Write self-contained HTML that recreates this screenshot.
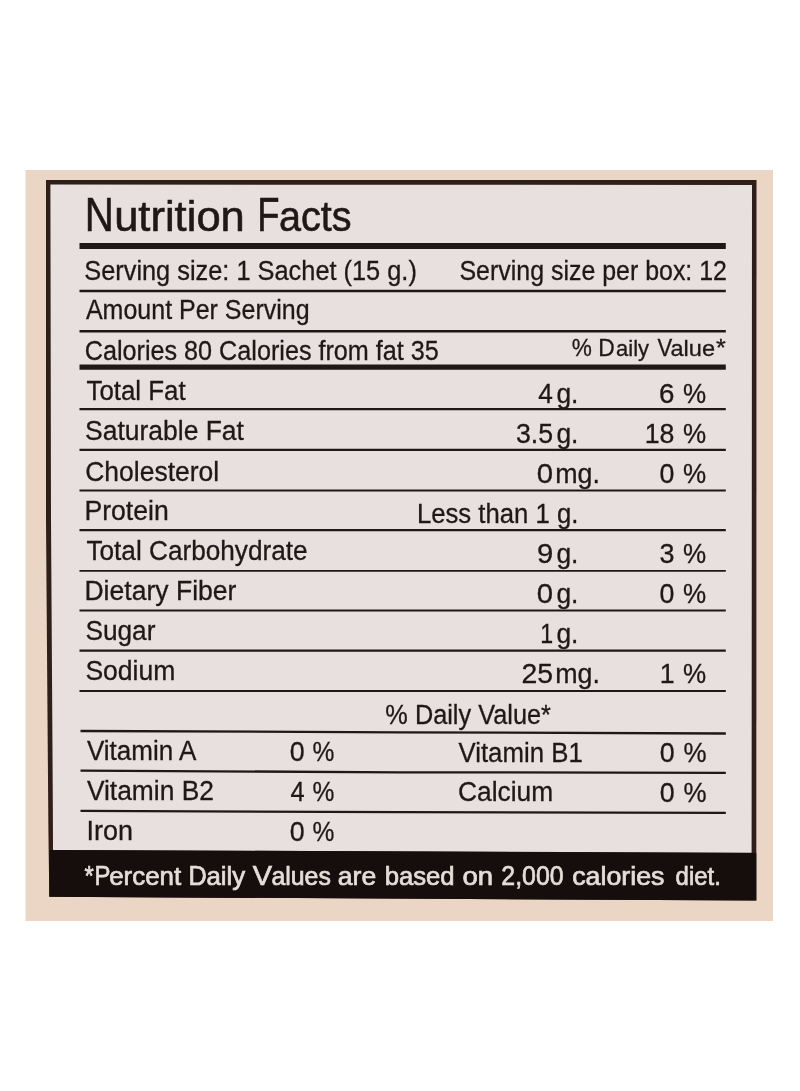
<!DOCTYPE html>
<html><head><meta charset="utf-8"><style>
html,body{margin:0;padding:0;background:#fff;}
body{width:800px;height:1091px;overflow:hidden;}
svg{display:block;font-family:"Liberation Sans",sans-serif;filter:blur(0.35px);}
</style></head><body>
<svg width="800" height="1091" viewBox="0 0 800 1091">
<rect x="25.5" y="170" width="747.5" height="751" fill="#ebd6c5"/>
<path d="M46 180 L756.5 180 L756.3 900.5 L49.3 896.8 L48.4 830 L46 520 Z" fill="#2e1f1a"/>
<path d="M50.4 184.6 L752 185 L751.6 852.8 L53 850 L52.8 800 L51 520 Z" fill="#e7e0de"/>
<path d="M79.5 243 L725.8 243 L725.8 249 L79.5 249 Z" fill="#211716"/>
<path d="M79.5 289.7 L725.8 289.7 L725.8 292.3 L79.5 292.3 Z" fill="#211716"/>
<path d="M79.5 330 L725.8 330 L725.8 332.4 L79.5 332.4 Z" fill="#211716"/>
<path d="M79.5 364.4 L725.8 364.4 L725.8 369.8 L79.5 369.8 Z" fill="#211716"/>
<path d="M79.5 407.9 L725.8 407.9 L725.8 410.3 L79.5 410.3 Z" fill="#211716"/>
<path d="M79.5 448.8 L725.8 448.8 L725.8 451 L79.5 451 Z" fill="#211716"/>
<path d="M79.5 489.5 L725.8 489.5 L725.8 491.4 L79.5 491.4 Z" fill="#211716"/>
<path d="M79.5 529 L725.8 529 L725.8 531.2 L79.5 531.2 Z" fill="#211716"/>
<path d="M79.5 570 L725.8 570 L725.8 571.8 L79.5 571.8 Z" fill="#211716"/>
<path d="M79.5 609.5 L725.8 609.5 L725.8 611.6 L79.5 611.6 Z" fill="#211716"/>
<path d="M79.5 649.6 L725.8 649.6 L725.8 651.7 L79.5 651.7 Z" fill="#211716"/>
<path d="M79.5 690 L725.8 690 L725.8 692 L79.5 692 Z" fill="#211716"/>
<path d="M80.5 729.85 L400 731.15 L725.8 732.35 L725.8 734.65 L400 733.4499999999999 L80.5 732.15 Z" fill="#211716"/>
<path d="M80.5 769.45 L400 771.15 L725.8 771.65 L725.8 773.9499999999999 L400 773.4499999999999 L80.5 771.75 Z" fill="#211716"/>
<path d="M80.5 809.65 L400 811.0500000000001 L725.8 811.65 L725.8 813.9499999999999 L400 813.35 L80.5 811.9499999999999 Z" fill="#211716"/>
<text x="84.80" y="231.00" font-size="47.38" textLength="29.09" lengthAdjust="spacingAndGlyphs" fill="#211716" stroke="#211716" stroke-width="0.6">N</text>
<text x="114.17" y="231.00" font-size="43.18" textLength="130.65" lengthAdjust="spacingAndGlyphs" fill="#211716" stroke="#211716" stroke-width="0.6">utrition</text>
<text x="257.31" y="231.00" font-size="47.38" textLength="22.25" lengthAdjust="spacingAndGlyphs" fill="#211716" stroke="#211716" stroke-width="0.6">F</text>
<text x="278.92" y="231.00" font-size="43.18" textLength="72.51" lengthAdjust="spacingAndGlyphs" fill="#211716" stroke="#211716" stroke-width="0.6">acts</text>
<text x="84.25" y="279.75" font-size="26.74" textLength="332.62" lengthAdjust="spacingAndGlyphs" fill="#211716" stroke="#211716" stroke-width="0.3">Serving size: 1 Sachet (15 g.)</text>
<text x="459.47" y="279.60" font-size="26.74" textLength="267.49" lengthAdjust="spacingAndGlyphs" fill="#211716" stroke="#211716" stroke-width="0.3">Serving size per box: 12</text>
<text x="85.95" y="319.40" font-size="26.74" textLength="223.66" lengthAdjust="spacingAndGlyphs" fill="#211716" stroke="#211716" stroke-width="0.3">Amount Per Serving</text>
<text x="84.72" y="360.20" font-size="26.74" textLength="354.14" lengthAdjust="spacingAndGlyphs" fill="#211716" stroke="#211716" stroke-width="0.3">Calories 80 Calories from fat 35</text>
<text x="571.69" y="355.50" font-size="24.71" textLength="20.11" lengthAdjust="spacingAndGlyphs" fill="#211716" stroke="#211716" stroke-width="0.3">%</text>
<text x="598.13" y="355.50" font-size="24.71" textLength="16.46" lengthAdjust="spacingAndGlyphs" fill="#211716" stroke="#211716" stroke-width="0.3">D</text>
<text x="616.07" y="355.50" font-size="21.78" textLength="32.98" lengthAdjust="spacingAndGlyphs" fill="#211716" stroke="#211716" stroke-width="0.3">aily</text>
<text x="657.40" y="355.50" font-size="24.71" textLength="14.69" lengthAdjust="spacingAndGlyphs" fill="#211716" stroke="#211716" stroke-width="0.3">V</text>
<text x="670.50" y="355.50" font-size="21.78" textLength="44.55" lengthAdjust="spacingAndGlyphs" fill="#211716" stroke="#211716" stroke-width="0.3">alue</text>
<text x="716.09" y="355.50" font-size="24.71" textLength="9.80" lengthAdjust="spacingAndGlyphs" fill="#211716" stroke="#211716" stroke-width="0.3">*</text>
<text x="86.44" y="400.00" font-size="26.74" textLength="99.25" lengthAdjust="spacingAndGlyphs" fill="#211716" stroke="#211716" stroke-width="0.3">Total Fat</text>
<text x="85.05" y="439.70" font-size="26.74" textLength="158.90" lengthAdjust="spacingAndGlyphs" fill="#211716" stroke="#211716" stroke-width="0.3">Saturable Fat</text>
<text x="85.26" y="480.50" font-size="26.74" textLength="133.92" lengthAdjust="spacingAndGlyphs" fill="#211716" stroke="#211716" stroke-width="0.3">Cholesterol</text>
<text x="84.42" y="520.30" font-size="26.74" textLength="84.31" lengthAdjust="spacingAndGlyphs" fill="#211716" stroke="#211716" stroke-width="0.3">Protein</text>
<text x="86.42" y="560.20" font-size="26.74" textLength="221.23" lengthAdjust="spacingAndGlyphs" fill="#211716" stroke="#211716" stroke-width="0.3">Total Carbohydrate</text>
<text x="84.42" y="599.80" font-size="26.74" textLength="152.02" lengthAdjust="spacingAndGlyphs" fill="#211716" stroke="#211716" stroke-width="0.3">Dietary Fiber</text>
<text x="85.41" y="640.00" font-size="26.74" textLength="70.03" lengthAdjust="spacingAndGlyphs" fill="#211716" stroke="#211716" stroke-width="0.3">Sugar</text>
<text x="85.40" y="680.00" font-size="26.74" textLength="89.95" lengthAdjust="spacingAndGlyphs" fill="#211716" stroke="#211716" stroke-width="0.3">Sodium</text>
<text x="538.15" y="402.50" font-size="26.74" textLength="14.62" lengthAdjust="spacingAndGlyphs" fill="#211716" stroke="#211716" stroke-width="0.3">4</text>
<text x="556.39" y="402.50" font-size="26.74" textLength="22.02" lengthAdjust="spacingAndGlyphs" fill="#211716" stroke="#211716" stroke-width="0.3">g.</text>
<text x="659.09" y="402.50" font-size="26.74" textLength="15.43" lengthAdjust="spacingAndGlyphs" fill="#211716" stroke="#211716" stroke-width="0.3">6</text>
<text x="683.07" y="402.50" font-size="26.74" textLength="23.16" lengthAdjust="spacingAndGlyphs" fill="#211716" stroke="#211716" stroke-width="0.3">%</text>
<text x="515.98" y="442.50" font-size="26.74" textLength="37.14" lengthAdjust="spacingAndGlyphs" fill="#211716" stroke="#211716" stroke-width="0.3">3.5</text>
<text x="556.39" y="442.50" font-size="26.74" textLength="22.02" lengthAdjust="spacingAndGlyphs" fill="#211716" stroke="#211716" stroke-width="0.3">g.</text>
<text x="644.71" y="442.50" font-size="26.74" textLength="29.75" lengthAdjust="spacingAndGlyphs" fill="#211716" stroke="#211716" stroke-width="0.3">18</text>
<text x="683.07" y="442.50" font-size="26.74" textLength="23.16" lengthAdjust="spacingAndGlyphs" fill="#211716" stroke="#211716" stroke-width="0.3">%</text>
<text x="536.86" y="483.00" font-size="26.74" textLength="16.29" lengthAdjust="spacingAndGlyphs" fill="#211716" stroke="#211716" stroke-width="0.3">0</text>
<text x="555.22" y="483.00" font-size="26.74" textLength="44.73" lengthAdjust="spacingAndGlyphs" fill="#211716" stroke="#211716" stroke-width="0.3">mg.</text>
<text x="659.45" y="483.00" font-size="26.74" textLength="14.89" lengthAdjust="spacingAndGlyphs" fill="#211716" stroke="#211716" stroke-width="0.3">0</text>
<text x="683.07" y="483.00" font-size="26.74" textLength="23.16" lengthAdjust="spacingAndGlyphs" fill="#211716" stroke="#211716" stroke-width="0.3">%</text>
<text x="537.13" y="563.00" font-size="26.74" textLength="16.25" lengthAdjust="spacingAndGlyphs" fill="#211716" stroke="#211716" stroke-width="0.3">9</text>
<text x="556.39" y="563.00" font-size="26.74" textLength="22.02" lengthAdjust="spacingAndGlyphs" fill="#211716" stroke="#211716" stroke-width="0.3">g.</text>
<text x="659.47" y="563.00" font-size="26.74" textLength="15.01" lengthAdjust="spacingAndGlyphs" fill="#211716" stroke="#211716" stroke-width="0.3">3</text>
<text x="683.07" y="563.00" font-size="26.74" textLength="23.16" lengthAdjust="spacingAndGlyphs" fill="#211716" stroke="#211716" stroke-width="0.3">%</text>
<text x="536.86" y="603.00" font-size="26.74" textLength="16.29" lengthAdjust="spacingAndGlyphs" fill="#211716" stroke="#211716" stroke-width="0.3">0</text>
<text x="556.39" y="603.00" font-size="26.74" textLength="22.02" lengthAdjust="spacingAndGlyphs" fill="#211716" stroke="#211716" stroke-width="0.3">g.</text>
<text x="659.45" y="603.00" font-size="26.74" textLength="14.89" lengthAdjust="spacingAndGlyphs" fill="#211716" stroke="#211716" stroke-width="0.3">0</text>
<text x="683.07" y="603.00" font-size="26.74" textLength="23.16" lengthAdjust="spacingAndGlyphs" fill="#211716" stroke="#211716" stroke-width="0.3">%</text>
<text x="540.23" y="643.00" font-size="26.74" textLength="12.90" lengthAdjust="spacingAndGlyphs" fill="#211716" stroke="#211716" stroke-width="0.3">1</text>
<text x="556.39" y="643.00" font-size="26.74" textLength="22.02" lengthAdjust="spacingAndGlyphs" fill="#211716" stroke="#211716" stroke-width="0.3">g.</text>
<text x="521.57" y="683.00" font-size="26.74" textLength="31.62" lengthAdjust="spacingAndGlyphs" fill="#211716" stroke="#211716" stroke-width="0.3">25</text>
<text x="555.22" y="683.00" font-size="26.74" textLength="44.73" lengthAdjust="spacingAndGlyphs" fill="#211716" stroke="#211716" stroke-width="0.3">mg.</text>
<text x="659.73" y="683.00" font-size="26.74" textLength="14.87" lengthAdjust="spacingAndGlyphs" fill="#211716" stroke="#211716" stroke-width="0.3">1</text>
<text x="683.07" y="683.00" font-size="26.74" textLength="23.16" lengthAdjust="spacingAndGlyphs" fill="#211716" stroke="#211716" stroke-width="0.3">%</text>
<text x="416.89" y="523.00" font-size="26.74" textLength="161.45" lengthAdjust="spacingAndGlyphs" fill="#211716" stroke="#211716" stroke-width="0.3">Less than 1 g.</text>
<text x="385.36" y="723.80" font-size="26.74" textLength="165.53" lengthAdjust="spacingAndGlyphs" fill="#211716" stroke="#211716" stroke-width="0.3">% Daily Value*</text>
<text x="86.89" y="760.00" font-size="26.74" textLength="109.46" lengthAdjust="spacingAndGlyphs" fill="#211716" stroke="#211716" stroke-width="0.3">Vitamin A</text>
<text x="289.85" y="761.00" font-size="26.74" textLength="14.89" lengthAdjust="spacingAndGlyphs" fill="#211716" stroke="#211716" stroke-width="0.3">0</text>
<text x="312.42" y="761.00" font-size="26.74" textLength="21.85" lengthAdjust="spacingAndGlyphs" fill="#211716" stroke="#211716" stroke-width="0.3">%</text>
<text x="458.49" y="761.50" font-size="26.74" textLength="124.27" lengthAdjust="spacingAndGlyphs" fill="#211716" stroke="#211716" stroke-width="0.3">Vitamin B1</text>
<text x="659.65" y="762.00" font-size="26.74" textLength="14.89" lengthAdjust="spacingAndGlyphs" fill="#211716" stroke="#211716" stroke-width="0.3">0</text>
<text x="683.48" y="762.00" font-size="26.74" textLength="23.05" lengthAdjust="spacingAndGlyphs" fill="#211716" stroke="#211716" stroke-width="0.3">%</text>
<text x="86.88" y="799.50" font-size="26.74" textLength="127.04" lengthAdjust="spacingAndGlyphs" fill="#211716" stroke="#211716" stroke-width="0.3">Vitamin B2</text>
<text x="290.42" y="800.50" font-size="26.74" textLength="14.13" lengthAdjust="spacingAndGlyphs" fill="#211716" stroke="#211716" stroke-width="0.3">4</text>
<text x="312.42" y="800.50" font-size="26.74" textLength="21.85" lengthAdjust="spacingAndGlyphs" fill="#211716" stroke="#211716" stroke-width="0.3">%</text>
<text x="458.06" y="801.00" font-size="26.74" textLength="95.18" lengthAdjust="spacingAndGlyphs" fill="#211716" stroke="#211716" stroke-width="0.3">Calcium</text>
<text x="659.65" y="801.50" font-size="26.74" textLength="14.89" lengthAdjust="spacingAndGlyphs" fill="#211716" stroke="#211716" stroke-width="0.3">0</text>
<text x="683.48" y="801.50" font-size="26.74" textLength="23.05" lengthAdjust="spacingAndGlyphs" fill="#211716" stroke="#211716" stroke-width="0.3">%</text>
<text x="86.51" y="839.50" font-size="26.74" textLength="46.55" lengthAdjust="spacingAndGlyphs" fill="#211716" stroke="#211716" stroke-width="0.3">Iron</text>
<text x="289.85" y="840.80" font-size="26.74" textLength="14.89" lengthAdjust="spacingAndGlyphs" fill="#211716" stroke="#211716" stroke-width="0.3">0</text>
<text x="312.42" y="840.80" font-size="26.74" textLength="21.85" lengthAdjust="spacingAndGlyphs" fill="#211716" stroke="#211716" stroke-width="0.3">%</text>
<path d="M49.5 850 L752 853 L756.3 853 L756.3 900.5 L49.3 896.8 Z" fill="#160e0d"/>
<text stroke="#e6dcd8" stroke-width="0.7" x="84.62" y="885.00" font-size="28.20" textLength="9.25" lengthAdjust="spacingAndGlyphs" fill="#e6dcd8">*</text>
<text stroke="#e6dcd8" stroke-width="0.7" x="94.44" y="885.00" font-size="28.20" textLength="15.92" lengthAdjust="spacingAndGlyphs" fill="#e6dcd8">P</text>
<text stroke="#e6dcd8" stroke-width="0.7" x="109.20" y="885.00" font-size="25.95" textLength="71.99" lengthAdjust="spacingAndGlyphs" fill="#e6dcd8">ercent</text>
<text stroke="#e6dcd8" stroke-width="0.7" x="188.52" y="885.00" font-size="28.20" textLength="18.29" lengthAdjust="spacingAndGlyphs" fill="#e6dcd8">D</text>
<text stroke="#e6dcd8" stroke-width="0.7" x="206.41" y="885.00" font-size="25.95" textLength="38.64" lengthAdjust="spacingAndGlyphs" fill="#e6dcd8">aily</text>
<text stroke="#e6dcd8" stroke-width="0.7" x="252.87" y="885.00" font-size="28.20" textLength="19.25" lengthAdjust="spacingAndGlyphs" fill="#e6dcd8">V</text>
<text stroke="#e6dcd8" stroke-width="0.7" x="271.44" y="885.00" font-size="25.95" textLength="59.46" lengthAdjust="spacingAndGlyphs" fill="#e6dcd8">alues</text>
<text stroke="#e6dcd8" stroke-width="0.7" x="337.87" y="885.00" font-size="25.95" textLength="38.30" lengthAdjust="spacingAndGlyphs" fill="#e6dcd8">are</text>
<text stroke="#e6dcd8" stroke-width="0.7" x="384.64" y="885.00" font-size="25.95" textLength="70.01" lengthAdjust="spacingAndGlyphs" fill="#e6dcd8">based</text>
<text stroke="#e6dcd8" stroke-width="0.7" x="462.54" y="885.00" font-size="25.95" textLength="30.65" lengthAdjust="spacingAndGlyphs" fill="#e6dcd8">on</text>
<text stroke="#e6dcd8" stroke-width="0.7" x="501.35" y="885.00" font-size="28.20" textLength="62.22" lengthAdjust="spacingAndGlyphs" fill="#e6dcd8">2,000</text>
<text stroke="#e6dcd8" stroke-width="0.7" x="572.16" y="885.00" font-size="25.95" textLength="92.31" lengthAdjust="spacingAndGlyphs" fill="#e6dcd8">calories</text>
<text stroke="#e6dcd8" stroke-width="0.7" x="675.60" y="885.00" font-size="25.95" textLength="45.19" lengthAdjust="spacingAndGlyphs" fill="#e6dcd8">diet.</text>
</svg>
</body></html>
